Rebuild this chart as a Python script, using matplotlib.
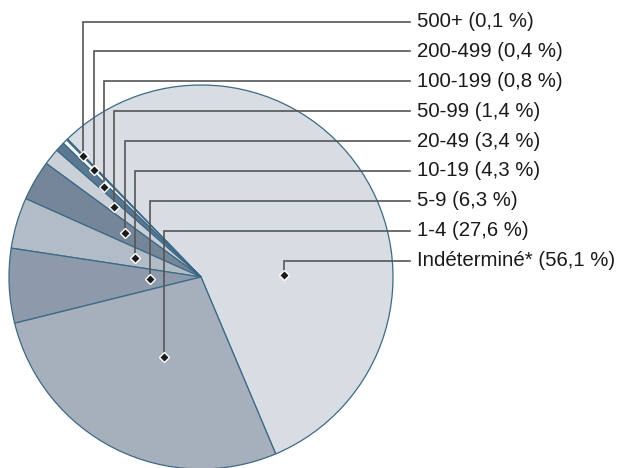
import numpy as np
import matplotlib.pyplot as plt

# Share of units by size class
categories = ['Indéterminé*', '500+', '200-499', '100-199', '50-99',
              '20-49', '10-19', '5-9', '1-4']
shares = [56.1, 0.1, 0.4, 0.8, 1.4, 3.4, 4.3, 6.3, 27.6]

# listing order of the labels on the right, top to bottom
label_order = ['500+', '200-499', '100-199', '50-99', '20-49',
               '10-19', '5-9', '1-4', 'Indéterminé*']

COLORS = {
    'Indéterminé*': '#d8dde3',
    '500+':         '#3f6784',
    '200-499':      '#f4f6f8',
    '100-199':      '#5b7891',
    '50-99':        '#c9d0d8',
    '20-49':        '#768699',
    '10-19':        '#b2bcc7',
    '5-9':          '#8c9aab',
    '1-4':          '#a6afbc',
}
EDGE = '#3d6986'

# where the leader dot sits inside each wedge: (fraction of sweep, fraction of radius)
ANCHOR = {
    'Indéterminé*': (0.342, 0.43),
    '500+':         (0.5, 0.88),
    '200-499':      (0.5, 0.79),
    '100-199':      (0.5, 0.69),
    '50-99':        (0.5, 0.58),
    '20-49':        (0.5, 0.46),
    '10-19':        (0.5, 0.36),
    '5-9':          (0.5, 0.265),
    '1-4':          (0.52, 0.46),
}

plt.rcParams['font.family'] = ['Liberation Sans', 'DejaVu Sans']

W, H = 625, 468
fig = plt.figure(figsize=(W / 100, H / 100), dpi=100)
ax = fig.add_axes([0, 0, 1, 1])

cx, cy, R = 201, H - 277, 192
wedges, _ = ax.pie(shares, colors=[COLORS[c] for c in categories],
                   startangle=-67.1, counterclock=True,
                   center=(cx, cy), radius=R, frame=True,
                   wedgeprops={'edgecolor': EDGE, 'linewidth': 0.9})
ax.set_xlim(0, W)
ax.set_ylim(0, H)
ax.set_aspect('equal')
ax.axis('off')

text_x = 417
line_end = 410
top_y = H - 21.5
step = 29.9
for i, name in enumerate(label_order):
    w = wedges[categories.index(name)]
    fa, fr = ANCHOR[name]
    ang = np.deg2rad(w.theta1 + fa * (w.theta2 - w.theta1))
    px = cx + fr * R * np.cos(ang)
    py = cy + fr * R * np.sin(ang)
    ly = top_y - i * step
    ax.plot([px, px, line_end], [py, ly, ly], color='#555555', lw=1.2,
            solid_joinstyle='miter', zorder=3)
    ax.plot(px, py, marker='D', ms=5, mfc='#1a1a1a', mec='white', mew=1,
            zorder=4)
    val = f"{shares[categories.index(name)]:.1f}".replace('.', ',')
    ax.text(text_x, ly, f"{name} ({val} %)", fontsize=14.7, color='#1a1a1a',
            ha='left', va='center')

fig.savefig('out.png', dpi=100)
